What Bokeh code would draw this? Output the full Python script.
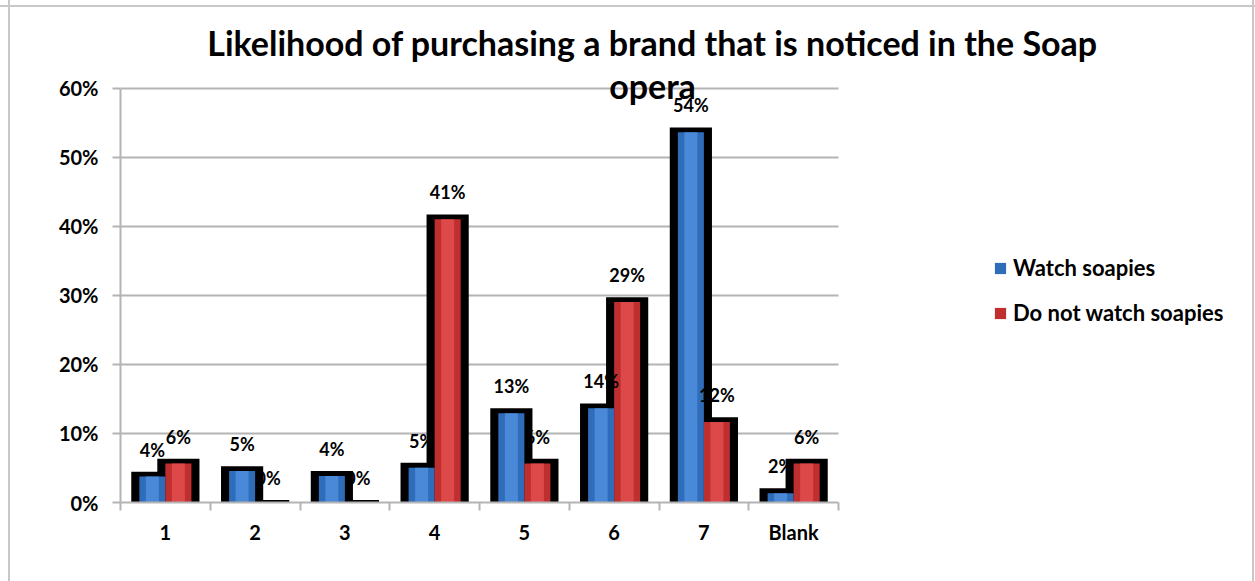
import numpy as np
from bokeh.plotting import figure
from bokeh.models import (FixedTicker, PrintfTickFormatter, Legend, LegendItem,
                          Label, Range1d)
from bokeh.core.properties import value
from bokeh.embed import file_html
from bokeh.resources import INLINE

# ---- data -------------------------------------------------------------
categories = ["1", "2", "3", "4", "5", "6", "7", "Blank"]
watch = [4.1, 4.9, 4.2, 5.4, 13.3, 14.0, 54.0, 1.7]          # % Watch soapies
not_watch = [6.0, 0.0, 0.0, 41.4, 6.0, 29.4, 12.0, 6.0]      # % Do not watch soapies
y_ticks = [0, 10, 20, 30, 40, 50, 60]
series_names = ["Watch soapies", "Do not watch soapies"]
title_lines = ["Likelihood of purchasing a brand that is noticed in the Soap", "opera"]

# ---- style ------------------------------------------------------------
FONT = "Lato"
BLUE_EDGE, BLUE_MID = "#2f6cba", "#4d8edc"
RED_EDGE, RED_MID = "#c02f2f", "#e24c4c"
GRID = "#b4b4b4"
FRAME = "#c8c8c8"

n = len(categories)
idx = np.arange(n)
off = 0.145
bar_w = 0.29
shadow_w = 0.47
shade = 0.35  # the black 3D edge rises slightly above each value

# plot frame spans the canvas right of the y axis and above the x axis;
# axes and grid lines are bounded to the data region
p = figure(width=1255, height=581, x_range=Range1d(-0.5, 12.146), y_range=Range1d(0, 72.75),
           output_backend="svg", toolbar_location=None,
           min_border_left=120, min_border_right=0, min_border_top=0, min_border_bottom=79)
p.background_fill_alpha = 0
p.border_fill_alpha = 0
p.outline_line_color = None
p.styles = {
    "background": (f"linear-gradient(to right, transparent 8px, {FRAME} 8px, {FRAME} 10px, transparent 10px), "
                   f"linear-gradient(to bottom, transparent 5px, {FRAME} 5px, {FRAME} 7px, transparent 7px), "
                   f"linear-gradient(to left, transparent 1px, {FRAME} 1px, {FRAME} 3px, transparent 3px), white"),
}

# horizontal grid lines limited to the category region
p.grid.visible = False
p.segment(x0=-0.5, x1=n - 0.5, y0=y_ticks[1:], y1=y_ticks[1:], line_color=GRID, line_width=2)

# black 3D edges
for xs, vals in ((idx - off, watch), (idx + off, not_watch)):
    p.vbar(x=xs, top=np.array(vals) + shade, bottom=0, width=shadow_w,
           fill_color="black", line_color=None)

# coloured bars
renderers = []
for xs, vals, edge, mid in ((idx - off, watch, BLUE_EDGE, BLUE_MID),
                            (idx + off, not_watch, RED_EDGE, RED_MID)):
    tops = np.maximum(np.array(vals) - shade, 0)
    r = p.vbar(x=xs, top=tops, bottom=0, width=bar_w, fill_color=edge, line_color=None)
    p.vbar(x=xs, top=tops, bottom=0, width=bar_w * 0.5, fill_color=mid, line_color=None,
           fill_alpha=0.85)
    renderers.append(r)

# value labels
for xs, vals in ((idx - off, watch), (idx + off, not_watch)):
    p.text(x=xs, y=np.array(vals) + shade, text=[f"{round(v)}%" for v in vals],
           text_align="center", text_baseline="middle", y_offset=-22,
           text_font=value(FONT), text_font_style="bold", text_font_size="18px",
           text_color="black")

# axes
p.xaxis.bounds = (-0.5, n - 0.5)
p.xaxis.ticker = FixedTicker(ticks=list(idx), minor_ticks=[i - 0.5 for i in range(n + 1)])
p.xaxis.major_label_overrides = {int(i): c for i, c in zip(idx, categories)}
p.xaxis.major_tick_out = 0
p.xaxis.major_tick_in = 0
p.xaxis.minor_tick_out = 8
p.xaxis.minor_tick_in = 0
p.xaxis.minor_tick_line_color = GRID
p.xaxis.minor_tick_line_width = 2
p.xaxis.major_label_standoff = 9

p.yaxis.bounds = (0, 60)
p.yaxis.ticker = FixedTicker(ticks=y_ticks, minor_ticks=[])
p.yaxis.formatter = PrintfTickFormatter(format="%d%%")
p.yaxis.major_tick_out = 8
p.yaxis.major_tick_in = 0
p.yaxis.minor_tick_out = 0
p.yaxis.major_tick_line_color = GRID
p.yaxis.major_tick_line_width = 2
p.yaxis.major_label_standoff = 14

for ax in (p.xaxis, p.yaxis):
    ax.axis_line_color = GRID
    ax.axis_line_width = 2
    ax.major_label_text_font = FONT
    ax.major_label_text_font_style = "bold"
    ax.major_label_text_font_size = "20px"
    ax.major_label_text_color = "black"

# title (two lines, centred)
for text, ypos in ((title_lines[0], 460), (title_lines[1], 417)):
    p.add_layout(Label(x=532, y=ypos, x_units="screen", y_units="screen", text=text,
                       text_align="center", text_baseline="alphabetic", text_font=FONT,
                       text_font_style="bold", text_font_size="34px", text_color="black"))

# legend
legend = Legend(items=[LegendItem(label=series_names[0], renderers=[renderers[0]]),
                       LegendItem(label=series_names[1], renderers=[renderers[1]])],
                location=(873, 176), orientation="vertical",
                label_text_font=FONT, label_text_font_style="bold", label_text_font_size="22px",
                label_text_color="black",
                glyph_width=14, glyph_height=14, label_height=22, spacing=18,
                padding=0, margin=0, label_standoff=6,
                border_line_alpha=0, background_fill_alpha=0)
p.add_layout(legend)

open("out.html", "w").write(file_html(p, INLINE))
